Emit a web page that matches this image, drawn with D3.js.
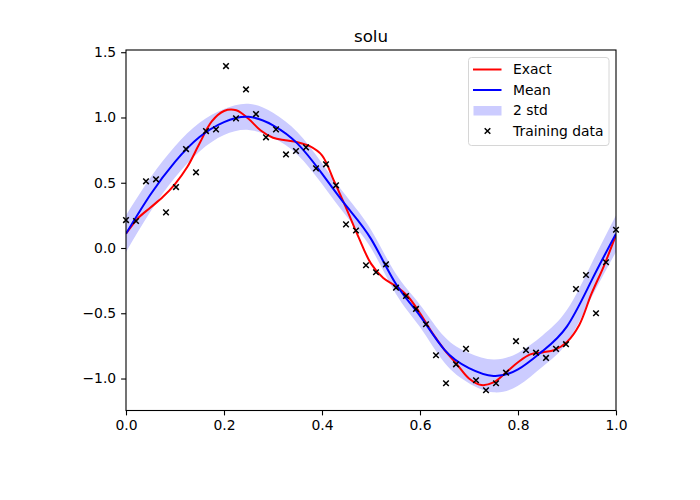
<!DOCTYPE html>
<html>
<head>
<meta charset="utf-8">
<script src="https://cdn.jsdelivr.net/npm/d3@7"></script>
<style>
  html, body { margin: 0; padding: 0; background: #fff; }
  svg { display: block; }
  text { font-family: "DejaVu Sans", sans-serif; fill: #000; }
</style>
</head>
<body>
<svg id="chart" width="700" height="500"></svg>
<script>
// ---- data ----
const title = "solu";
const xTicks = [0.0, 0.2, 0.4, 0.6, 0.8, 1.0];
const yTicks = [-1.0, -0.5, 0.0, 0.5, 1.0, 1.5];
const legendLabels = ["Exact", "Mean", "2 std", "Training data"];

// training data (x = linspace(0,1,50))
const trainX = d3.range(50).map(i => i / 49);
const trainY = [0.214, 0.207, 0.511, 0.526, 0.273, 0.467, 0.758, 0.580, 0.896, 0.909,
                1.394, 0.993, 1.215, 1.026, 0.848, 0.909, 0.717, 0.743, 0.771, 0.610,
                0.641, 0.480, 0.181, 0.134, -0.132, -0.186, -0.125, -0.304, -0.368, -0.467,
                -0.584, -0.822, -1.036, -0.891, -0.773, -1.013, -1.090, -1.036, -0.955, -0.714,
                -0.783, -0.802, -0.842, -0.773, -0.737, -0.314, -0.207, -0.500, -0.109, 0.140];

// exact solution
const exactX = d3.range(41).map(i => i * 0.025);
const exactY = [0.11, 0.23, 0.31, 0.39, 0.49, 0.62, 0.80, 0.97, 1.05, 1.055,
                0.99, 0.90, 0.845, 0.825, 0.81, 0.78, 0.71, 0.51, 0.30, 0.08,
                -0.12, -0.23, -0.29, -0.37, -0.50, -0.65, -0.78, -0.89, -1.00, -1.05,
                -1.03, -0.955, -0.875, -0.815, -0.80, -0.78, -0.72, -0.59, -0.35, -0.14,
                0.10];

// predictive mean and std
const meanX = d3.range(21).map(i => i * 0.05);
const meanY = [0.11, 0.41, 0.66, 0.85, 0.965, 1.005, 0.94, 0.80, 0.57, 0.32,
               0.07, -0.27, -0.52, -0.78, -0.92, -0.98, -0.93, -0.79, -0.60, -0.25,
               0.11];
const stdY = [0.070, 0.065, 0.060, 0.055, 0.050, 0.050, 0.048, 0.043, 0.040, 0.038,
              0.035, 0.038, 0.043, 0.050, 0.058, 0.063, 0.063, 0.060, 0.063, 0.065,
              0.070];

// ---- layout ----
const svg = d3.select("#chart");
const L = 126, R = 616, T = 50, B = 410.5;
const x = d3.scaleLinear().domain([0, 1]).range([L, R]);
const y = d3.scaleLinear().domain([-1.245, 1.517]).range([B, T]);

svg.append("defs").append("clipPath").attr("id", "clip")
  .append("rect").attr("x", L).attr("y", T).attr("width", R - L).attr("height", B - T);

const plot = svg.append("g").attr("clip-path", "url(#clip)");

// band
const bandData = meanX.map((xv, i) => ({ x: xv, lo: meanY[i] - 2 * stdY[i], hi: meanY[i] + 2 * stdY[i] }));
plot.append("path")
  .datum(bandData)
  .attr("fill", "#ccccff")
  .attr("stroke", "none")
  .attr("d", d3.area().x(d => x(d.x)).y0(d => y(d.lo)).y1(d => y(d.hi)).curve(d3.curveNatural));

// exact
plot.append("path")
  .datum(exactX.map((xv, i) => [xv, exactY[i]]))
  .attr("fill", "none").attr("stroke", "#ff0000").attr("stroke-width", 2)
  .attr("d", d3.line().x(d => x(d[0])).y(d => y(d[1])).curve(d3.curveCatmullRom.alpha(0.5)));

// mean
plot.append("path")
  .datum(meanX.map((xv, i) => [xv, meanY[i]]))
  .attr("fill", "none").attr("stroke", "#0000ff").attr("stroke-width", 2)
  .attr("d", d3.line().x(d => x(d[0])).y(d => y(d[1])).curve(d3.curveNatural));

// training markers
const ms = 2.8;
const xMark = (cx, cy) => `M${cx - ms},${cy - ms}L${cx + ms},${cy + ms}M${cx - ms},${cy + ms}L${cx + ms},${cy - ms}`;
svg.append("g").selectAll("path")
  .data(trainX.map((xv, i) => [xv, trainY[i]]))
  .join("path")
  .attr("d", d => xMark(x(d[0]), y(d[1])))
  .attr("stroke", "#000").attr("stroke-width", 1.5).attr("fill", "none");

// axes
const xAxis = svg.append("g").attr("transform", `translate(0,${B})`)
  .call(d3.axisBottom(x).tickValues(xTicks).tickFormat(d3.format(".1f")).tickSize(4.9).tickPadding(4.9));
const yAxis = svg.append("g").attr("transform", `translate(${L},0)`)
  .call(d3.axisLeft(y).tickValues(yTicks).tickFormat(d3.format(".1f")).tickSize(4.9).tickPadding(4.9));
[xAxis, yAxis].forEach(a => {
  a.selectAll(".domain").remove();
  a.selectAll("line").attr("stroke", "#000").attr("stroke-width", 1.1);
  a.selectAll("text").attr("font-size", "13.9px").attr("font-family", "DejaVu Sans").attr("fill", "#000");
});
yAxis.selectAll("text").text(d => d3.format(".1f")(d).replace("-", "\u2212"));

// frame
svg.append("rect").attr("x", L).attr("y", T).attr("width", R - L).attr("height", B - T)
  .attr("fill", "none").attr("stroke", "#000").attr("stroke-width", 1.1);

// title
svg.append("text").attr("x", (L + R) / 2).attr("y", 42).attr("text-anchor", "middle")
  .attr("font-size", "16.7px").text(title);

// legend
const lg = svg.append("g");
lg.append("rect").attr("x", 468.5).attr("y", 57.5).attr("width", 140.5).attr("height", 88)
  .attr("rx", 3).attr("fill", "#fff").attr("fill-opacity", 0.8)
  .attr("stroke", "#d6d6d6").attr("stroke-width", 1);
const rowsY = [69.5, 90, 110.5, 131];
lg.append("line").attr("x1", 473).attr("x2", 501.5).attr("y1", rowsY[0]).attr("y2", rowsY[0])
  .attr("stroke", "#ff0000").attr("stroke-width", 2);
lg.append("line").attr("x1", 473).attr("x2", 501.5).attr("y1", rowsY[1]).attr("y2", rowsY[1])
  .attr("stroke", "#0000ff").attr("stroke-width", 2);
lg.append("rect").attr("x", 473.5).attr("y", rowsY[2] - 4.5).attr("width", 28).attr("height", 9.5)
  .attr("fill", "#ccccff");
lg.append("path").attr("d", xMark(487.5, rowsY[3])).attr("stroke", "#000").attr("stroke-width", 1.5);
lg.selectAll("text.lab").data(legendLabels).join("text").attr("class", "lab")
  .attr("x", 513).attr("y", (d, i) => rowsY[i]).attr("dy", "0.35em")
  .attr("font-size", "13.9px").text(d => d);
</script>
</body>
</html>
